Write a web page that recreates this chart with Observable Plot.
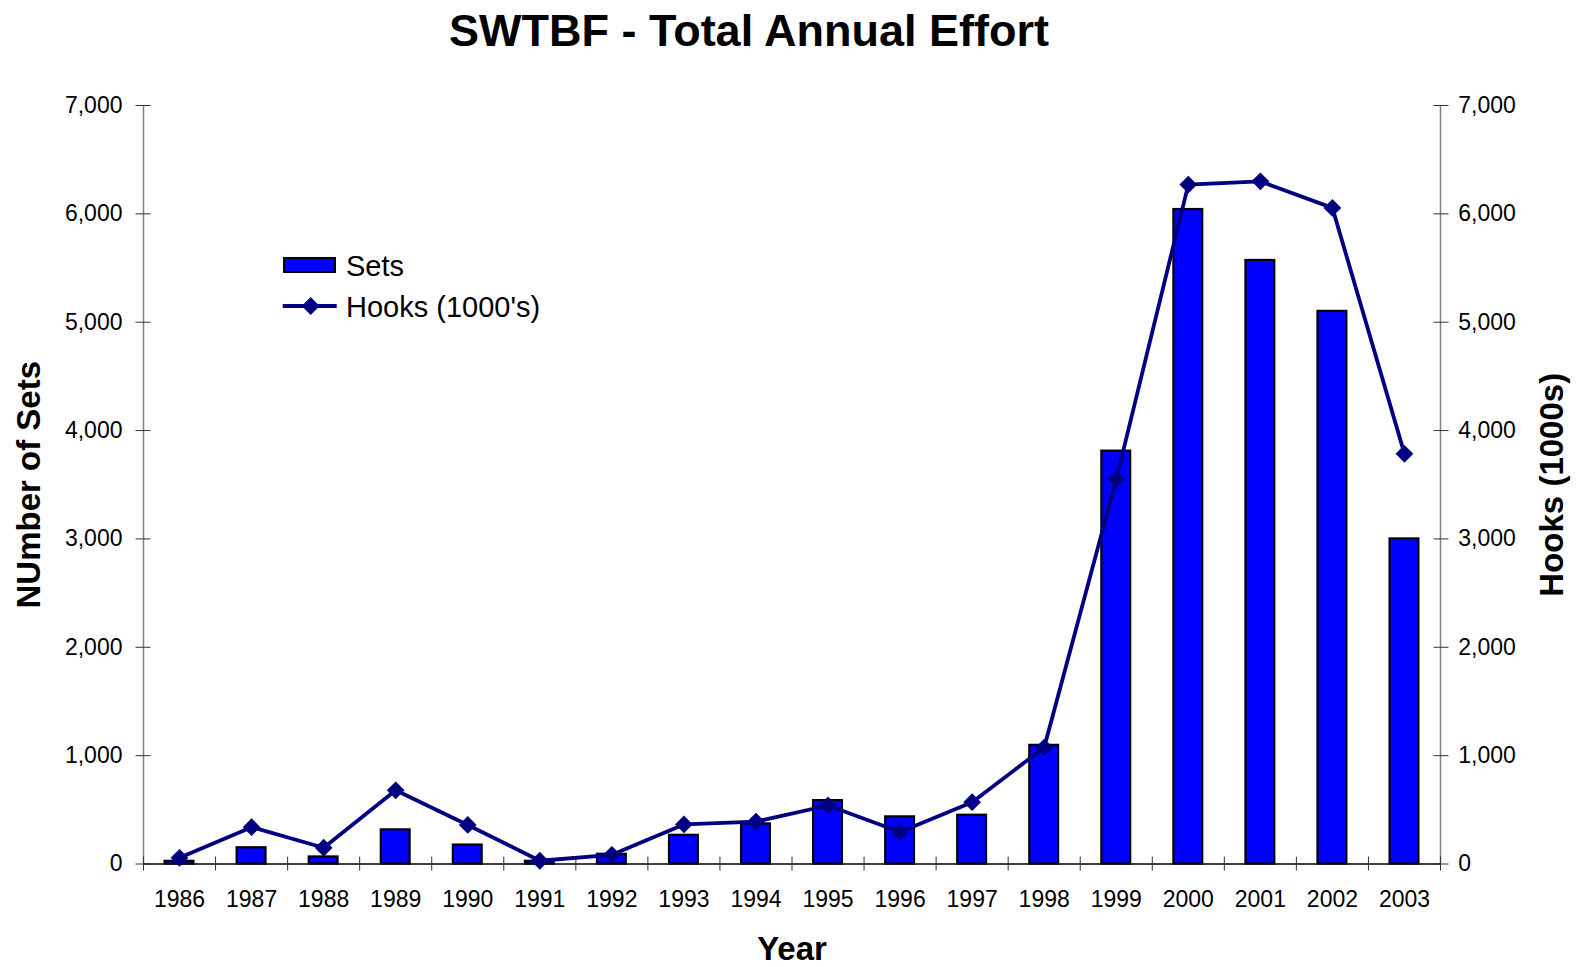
<!DOCTYPE html>
<html><head><meta charset="utf-8">
<script src="https://cdn.jsdelivr.net/npm/d3@7"></script>
<script src="https://cdn.jsdelivr.net/npm/@observablehq/plot@0.6"></script>
<style>
body{margin:0;background:#fff;font-family:"Liberation Sans",Arial,sans-serif;}
#wrap{position:relative;width:1576px;height:967px;overflow:hidden;background:#fff}
#title{height:60px;position:relative}
#title span{position:absolute;left:749px;top:8px;transform:translateX(-50%);font-size:45px;font-weight:bold;line-height:45px;white-space:nowrap;color:#000}
.leg{position:absolute;font-size:29px;line-height:29px;white-space:nowrap;color:#000}
</style></head><body>
<div id="wrap"><div id="title"><span id="titleText"></span></div><div id="chart"></div><div id="legend"></div></div>
<script>
// ---- data ----
const years = [1986,1987,1988,1989,1990,1991,1992,1993,1994,1995,1996,1997,1998,1999,2000,2001,2002,2003];
const sets  = [25,150,65,315,175,25,90,265,370,585,435,450,1095,3810,6040,5570,5100,3000];
const hooks = [57,340,150,680,360,30,85,365,392,540,295,570,1075,3550,6270,6300,6055,3785];
const yTicks = [0,1000,2000,3000,4000,5000,6000,7000];
const titleText = "SWTBF - Total Annual Effort";
const xLabel = "Year";
const yLeftLabel = "NUmber of Sets";
const yRightLabel = "Hooks (1000s)";
const seriesNames = ["Sets", "Hooks (1000's)"];

const barColor = "#0000ff";
const lineColor = "#000080";

document.getElementById("titleText").textContent = titleText;

const data = years.map((year, i) => ({year, sets: sets[i], hooks: hooks[i]}));
const xDomain = [years[0] - 0.5, years[years.length - 1] + 0.5];
const boundaries = d3.range(xDomain[0], xDomain[1] + 0.01, 1);
const fmt = d3.format(",");

const chart = Plot.plot({
  width: 1576, height: 907,
  marginTop: 45, marginBottom: 103.5, marginLeft: 143, marginRight: 136,
  style: {fontFamily: "'Liberation Sans', Arial, sans-serif", background: "#fff", color: "#000"},
  x: {type: "linear", domain: xDomain},
  y: {domain: [0, 7000]},
  marks: [
    Plot.rectY(data, {x1: d => d.year - 0.2, x2: d => d.year + 0.2, y: "sets", fill: barColor, stroke: "#000", strokeWidth: 2.2}),
    Plot.ruleX(xDomain, {stroke: "#808080", strokeWidth: 1.5}),
    Plot.ruleY([0], {stroke: "#000", strokeWidth: 1.5}),
    // x axis
    Plot.axisX({ticks: boundaries, tickSize: 14, dy: -7, tickFormat: () => "", label: null, stroke: "#333"}),
    Plot.axisX({ticks: years, tickSize: 0, tickPadding: 26.5, tickFormat: d3.format("d"), fontSize: 23, label: null}),
    Plot.axisX({ticks: [], tickSize: 0, label: xLabel, labelAnchor: "center", labelArrow: "none", labelOffset: 95.5, fontSize: 33, fontWeight: "bold"}),
    // left y axis
    Plot.axisY({anchor: "left", ticks: yTicks, tickSize: 15, dx: 7.5, tickFormat: () => "", label: null, stroke: "#333"}),
    Plot.axisY({anchor: "left", ticks: yTicks, tickSize: 0, tickPadding: 21, tickFormat: fmt, fontSize: 23, label: null}),
    Plot.axisY({anchor: "left", ticks: [], tickSize: 0, label: yLeftLabel, labelAnchor: "center", labelArrow: "none", labelOffset: 127, fontSize: 33, fontWeight: "bold"}),
    // right y axis
    Plot.axisY({anchor: "right", ticks: yTicks, tickSize: 15, dx: -7.5, tickFormat: () => "", label: null, stroke: "#333"}),
    Plot.axisY({anchor: "right", ticks: yTicks, tickSize: 0, tickPadding: 17.7, tickFormat: fmt, fontSize: 23, label: null}),
    Plot.axisY({anchor: "right", ticks: [], tickSize: 0, label: yRightLabel, labelAnchor: "center", labelArrow: "none", labelOffset: 122, fontSize: 33, fontWeight: "bold"}),
    // hooks line
    Plot.line(data, {x: "year", y: "hooks", stroke: lineColor, strokeWidth: 3.8}),
    Plot.dot(data, {x: "year", y: "hooks", symbol: "diamond2", r: 8, fill: lineColor, stroke: "none"})
  ]
});
document.getElementById("chart").appendChild(chart);

// legend
const legend = document.getElementById("legend");
legend.innerHTML = `
  <div style="position:absolute;left:282.7px;top:256.7px;width:53px;height:16.6px;box-sizing:border-box;background:${barColor};border:2px solid #000"></div>
  <div class="leg" style="left:346px;top:251.5px">${seriesNames[0]}</div>
  <svg style="position:absolute;left:282px;top:296px" width="56" height="20">
    <line x1="0.7" x2="54.7" y1="10" y2="10" stroke="${lineColor}" stroke-width="3.8"/>
    <path d="M28.7,1 L37.7,10 L28.7,19 L19.7,10Z" fill="${lineColor}"/>
  </svg>
  <div class="leg" style="left:346px;top:292.5px">${seriesNames[1]}</div>`;
</script>
</body></html>
